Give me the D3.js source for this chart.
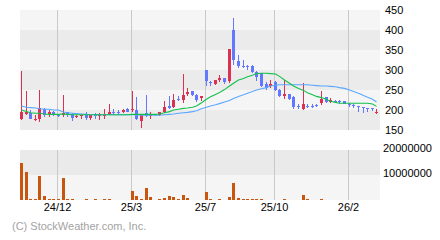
<!DOCTYPE html>
<html>
<head>
<meta charset="utf-8">
<script src="https://cdn.jsdelivr.net/npm/d3@7"></script>
<style>
  body { margin: 0; background: #fff; }
  svg { display: block; font-family: "Liberation Sans", Arial, sans-serif; }
</style>
</head>
<body>
<svg id="chart" width="440" height="240"></svg>
<script>
// weekly candles
let opens  = [178,190,192,175,178,202,190,195,188,188,194,190,182,184,190,181,187,185,186,190,
              195,195,196,203,200,200,173,192,184,190,188,195,210,208,227,225,241,248,238,230,
              300,269,265,275,280,273,400,322,310,310,310,295,292,266,260,270,250,235,240,232,
              210,203,210,211,213,217,232,221,223,222,222,215,213,210,207,206,205,192];
let highs  = [298,248,200,188,250,205,200,198,190,238,196,192,188,188,195,188,192,192,203,215,
              203,200,203,204,248,233,188,238,196,191,196,223,235,240,235,290,254,248,240,235,
              300,272,275,287,280,353,430,338,325,312,312,297,292,270,275,272,252,275,241,235,
              215,268,214,215,216,248,232,229,226,225,223,217,215,211,207,206,206,202];
let lows   = [176,188,177,173,171,183,183,185,183,183,183,173,179,177,176,175,178,175,177,188,
              188,188,193,194,194,175,156,183,178,186,186,192,202,204,222,218,235,235,221,223,
              260,260,262,271,265,267,313,304,305,300,292,273,257,250,254,248,233,228,225,203,
              203,200,205,206,208,212,217,217,217,215,214,207,206,194,193,196,197,191];
let closes = [195,195,178,178,205,188,196,188,185,193,188,181,186,187,181,187,185,187,191,196,
              193,193,201,195,203,178,188,185,187,187,195,208,204,225,224,238,246,238,225,235,
              272,267,275,280,271,353,325,310,308,307,295,283,261,255,266,250,235,240,228,207,
              208,215,209,210,210,227,221,226,221,220,216,212,211,207,205,204,203,194];
let volumes = [14800000,11200000,400000,400000,9600000,1600000,400000,400000,300000,8800000,
               400000,400000,0,0,400000,0,400000,0,400000,400000,
               0,0,0,0,3600000,1600000,400000,4800000,1200000,0,
               400000,800000,1600000,1200000,400000,2000000,800000,0,0,0,
               3200000,400000,0,400000,0,1200000,6800000,800000,400000,400000,
               400000,400000,400000,0,0,0,0,400000,0,0,
               0,2000000,400000,0,0,400000,0,0,0,0,
               0,0,0,0,0,0,0,0];
let maShort = [200,196,193,192,192,190,189,189,189,190,189,188,188,188,188,188,188,188,188,188,
               188,188,188,188,189,189,189,189,189,189,190,193,196,200,202,204,205,207,210,218,
               227,233,239,244,251,260,267,275,279,283,287,291,292,292,291,290,284,275,267,260,
               254,249,243,238,234,231,226,222,219,217,217,217,217,217,217,217,215,209];
let maLong  = [210,207,206,205,203,202,202,200,200,195,193,192,191,190,189,188,188,188,188,188,
               188,188,188,188,188,188,187,187,187,187,187,188,189,190,192,193,194,196,198,203,
               207,210,213,216,220,224,229,234,238,242,246,250,253,256,260,262,263,263,263,263,
               263,263,263,262,261,260,260,259,258,256,254,250,246,242,236,232,227,220];

let monthIdx = [8, 24, 40, 55, 71];
let monthLabels = ['24/12', '25/3', '25/7', '25/10', '26/2'];
let priceTicks = [150, 200, 250, 300, 350, 400, 450];
let volumeTicks = [10000000, 20000000];

let left = 20, right = 380;
let priceTop = 10, priceBottom = 130;
let volTop = 150, volBottom = 200;

let upColor = '#dc3152';
let downColor = '#6278ff';

let svg = d3.select('#chart');

let xScale = d3.scaleBand()
    .domain(d3.range(opens.length))
    .range([left, right])
    .paddingInner(0.35)
    .paddingOuter(0.175)
    .align(0);

let yScale = d3.scaleLinear().domain([150, 450]).range([priceBottom, priceTop]);
let vScale = d3.scaleLinear().domain([0, 20000000]).range([volBottom, volTop]);

let bx = (i) => Math.round(xScale(i));

function drawBands() {
    // price panel, 50-wide stripes
    let bands = d3.pairs(priceTicks);
    svg.append('g')
        .selectAll('rect')
        .data(bands)
        .enter()
        .append('rect')
        .attr('x', left)
        .attr('width', right - left)
        .attr('y', (d) => yScale(d[1]))
        .attr('height', (d) => yScale(d[0]) - yScale(d[1]))
        .attr('fill', (d, i) => (i % 2 == 0) ? '#ebebeb' : '#f5f5f5');

    let vBands = d3.pairs([0].concat(volumeTicks));
    svg.append('g')
        .selectAll('rect')
        .data(vBands)
        .enter()
        .append('rect')
        .attr('x', left)
        .attr('width', right - left)
        .attr('y', (d) => vScale(d[1]))
        .attr('height', (d) => vScale(d[0]) - vScale(d[1]))
        .attr('fill', (d, i) => (i % 2 == 0) ? '#f5f5f5' : '#eaeaea');
}

function drawGrid() {
    let g = svg.append('g').attr('stroke', '#c9c9c9').attr('stroke-width', 1);
    monthIdx.forEach((i) => {
        let gx = bx(i) + 0.5;
        g.append('line').attr('x1', gx).attr('x2', gx).attr('y1', priceTop).attr('y2', priceBottom);
        g.append('line').attr('x1', gx).attr('x2', gx).attr('y1', volTop).attr('y2', volBottom);
    });
}

function drawCandles() {
    let g = svg.append('g').attr('shape-rendering', 'crispEdges');
    let idx = d3.range(opens.length);
    let col = (i) => (closes[i] >= opens[i]) ? upColor : downColor;

    g.selectAll('.wick')
        .data(idx)
        .enter()
        .append('rect')
        .attr('class', 'wick')
        .attr('x', (i) => bx(i) + 1)
        .attr('width', 1)
        .attr('y', (i) => Math.round(yScale(highs[i])))
        .attr('height', (i) => Math.max(1, Math.round(yScale(lows[i])) - Math.round(yScale(highs[i]))))
        .attr('fill', col);

    g.selectAll('.body')
        .data(idx)
        .enter()
        .append('rect')
        .attr('class', 'body')
        .attr('x', (i) => bx(i))
        .attr('width', 3)
        .attr('y', (i) => Math.round(yScale(Math.max(opens[i], closes[i]))))
        .attr('height', (i) => Math.max(1, Math.round(yScale(Math.min(opens[i], closes[i]))) - Math.round(yScale(Math.max(opens[i], closes[i])))))
        .attr('fill', col);
}

function drawAverages() {
    let line = d3.line()
        .x((d, i) => bx(i) + 1.5)
        .y((d) => yScale(d));
    svg.append('path')
        .attr('d', line(maLong))
        .attr('fill', 'none')
        .attr('stroke', '#5aa8ff')
        .attr('stroke-width', 1.1);
    svg.append('path')
        .attr('d', line(maShort))
        .attr('fill', 'none')
        .attr('stroke', '#13c04c')
        .attr('stroke-width', 1.1);
}

function drawVolume() {
    svg.append('g')
        .attr('shape-rendering', 'crispEdges')
        .selectAll('rect')
        .data(volumes.map((v, i) => ({v: v, i: i})).filter((d) => d.v > 0))
        .enter()
        .append('rect')
        .attr('x', (d) => bx(d.i))
        .attr('width', 3)
        .attr('y', (d) => Math.min(volBottom - 1, Math.round(vScale(d.v))))
        .attr('height', (d) => Math.max(1, volBottom - Math.round(vScale(d.v))))
        .attr('fill', '#c9560f');
}

function drawLabels() {
    let g = svg.append('g').attr('font-size', '11px').attr('fill', '#000');
    g.selectAll('.ptick')
        .data(priceTicks)
        .enter()
        .append('text')
        .attr('x', 385)
        .attr('y', (d) => yScale(d))
        .attr('dy', '0.36em')
        .text((d) => d);

    g.selectAll('.vtick')
        .data(volumeTicks)
        .enter()
        .append('text')
        .attr('x', 383)
        .attr('y', (d) => vScale(d) - 1.5)
        .attr('dy', '0.36em')
        .text((d) => d);

    g.selectAll('.xtick')
        .data(monthIdx)
        .enter()
        .append('text')
        .attr('x', (i) => bx(i) + 0.5)
        .attr('y', 211)
        .attr('text-anchor', 'middle')
        .text((i, k) => monthLabels[k]);

    svg.append('text')
        .attr('x', 12)
        .attr('y', 230)
        .attr('font-size', '11px')
        .attr('fill', '#a3a3a3')
        .text('(C) StockWeather.com, Inc.');
}

drawBands();
drawGrid();
drawCandles();
drawAverages();
drawVolume();
drawLabels();
</script>
</body>
</html>
